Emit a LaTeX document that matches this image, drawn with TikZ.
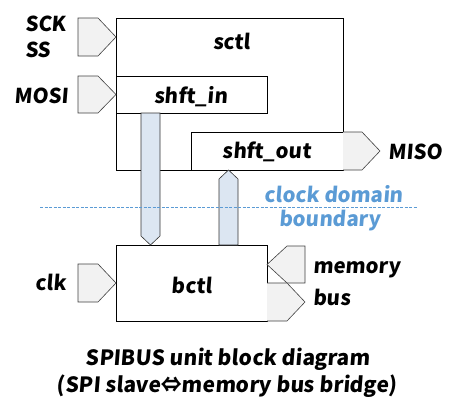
\documentclass[tikz,border=0pt]{standalone}
\usepackage{fontspec}
\setmainfont{Noto Sans CJK JP}[BoldFeatures={FakeSlant=0.08}]
\definecolor{clkblue}{RGB}{91,155,213}
\definecolor{busfill}{RGB}{220,230,242}
\definecolor{portfill}{RGB}{242,242,242}
\begin{document}
\begin{tikzpicture}[x=1pt,y=-1pt,
  lbl/.style={font=\fontsize{20.5}{22}\selectfont\bfseries, inner sep=0pt},
  captxt/.style={font=\fontsize{21}{23}\selectfont\bfseries, inner sep=0pt},
  blk/.style={draw=black, line width=0.8pt, fill=white},
  port/.style={draw=black!75, line width=0.6pt, fill=portfill},
  bus/.style={draw=black!80, line width=0.6pt, fill=busfill},
  bluetxt/.style={text=clkblue}]
\useasboundingbox (0,0) rectangle (456,416);
% blocks
\draw[blk] (116,18) rectangle (343,170);
\draw[blk] (116,76) rectangle (267,113);
\draw[blk] (191,132) rectangle (343,170);
\draw[blk] (116,245) rectangle (267,321);
\node[lbl] (tsctl) at (232,41) {sctl};
\node[lbl] (tshin) at (191,97) {shft\_in};
\node[lbl] (tshout) at (267,152) {shft\_out};
\node[lbl] (tbctl) at (192,285) {bctl};
% input ports
\draw[port] (78,18) -- (98,18) -- (116,37) -- (98,56) -- (78,56) -- cycle;
\draw[port] (78,76) -- (98,76) -- (116,94.5) -- (98,113) -- (78,113) -- cycle;
\draw[port] (78,264) -- (98,264) -- (116,283) -- (98,302) -- (78,302) -- cycle;
% MISO output
\draw[port] (343,132) -- (362,132) -- (380,151) -- (362,170) -- (343,170);
% memory bus ports
\draw[port] (305,246) -- (287,246) -- (267,264.5) -- (287,283) -- (305,283) -- cycle;
\draw[port] (267,283) -- (287,283) -- (305,302) -- (287,321) -- (267,321);
% vertical bus arrows
\draw[bus] (141,113) -- (160,113) -- (160,236) -- (150.5,245) -- (141,236) -- cycle;
\draw[bus] (219,245) -- (219,179) -- (228.5,170) -- (238,179) -- (238,245) -- cycle;
% labels
\node[lbl, anchor=west] (sck) at (25,24) {SCK};
\node[lbl, anchor=west] (ss) at (25,50) {SS};
\node[lbl, anchor=west] (mosi) at (14,96) {MOSI};
\node[lbl, anchor=west] (clk) at (35,282) {clk};
\node[lbl, anchor=west] (miso) at (388,152) {MISO};
\node[lbl, anchor=west] (mem) at (313,270) {memory};
\node[lbl, anchor=west] (busl) at (313,297) {bus};
% clock domain boundary
\coordinate (dl) at (40,207);
\coordinate (dr) at (418,207);
\draw[dashed, dash pattern=on 3pt off 1.5pt, line width=0.6pt, draw=clkblue] (dl) -- (dr);
\node[lbl, bluetxt] (cd1) at (334,194) {clock domain};
\node[lbl, bluetxt] (cd2) at (330,221) {boundary};
% caption
\node[captxt] (cap1) at (228,359) {SPIBUS unit block diagram};
\node[captxt] (cap2) at (227,386) {(SPI slave⇔memory bus bridge)};
\end{tikzpicture}
\end{document}
